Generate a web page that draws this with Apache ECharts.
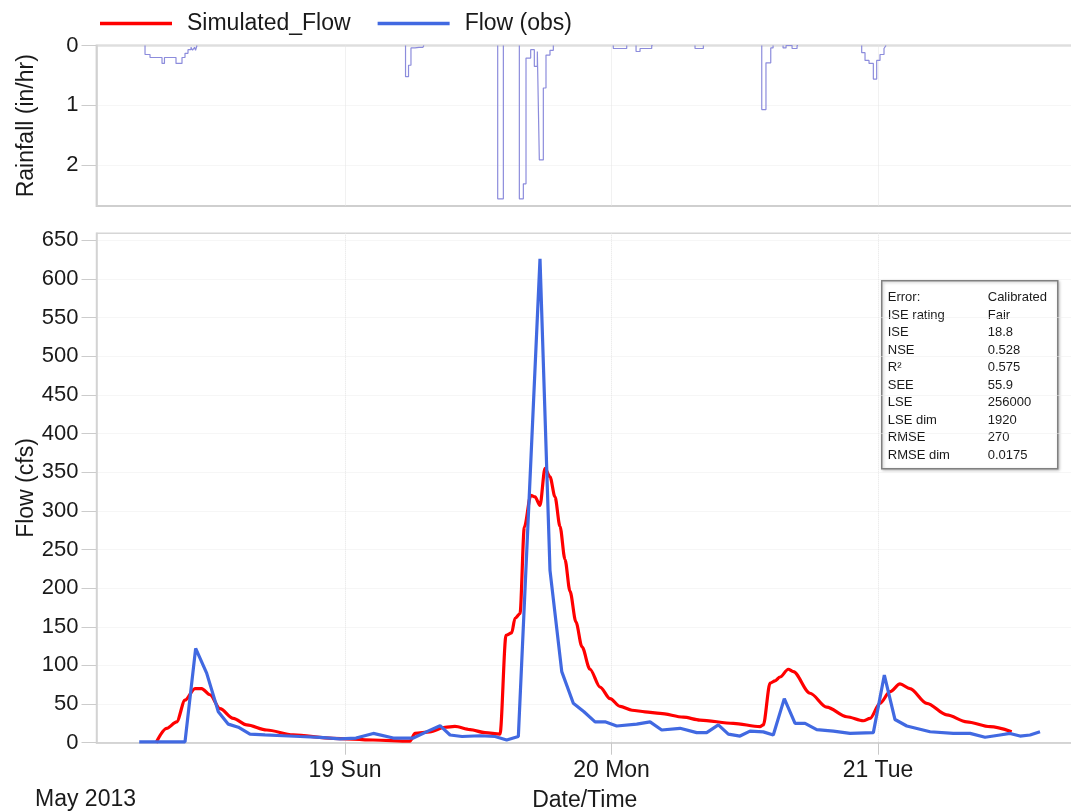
<!DOCTYPE html>
<html>
<head>
<meta charset="utf-8">
<script src="https://cdn.jsdelivr.net/npm/echarts@6/dist/echarts.min.js"></script>
<style>
  html, body { margin: 0; padding: 0; background: #ffffff; }
  #chart { width: 1071px; height: 811px; }
</style>
</head>
<body>
<div id="chart"></div>
<script>
// Hours are counted from May 18 2013, 00:00.
const dayTicks = [24, 48, 72];
const dayLabels = ['19 Sun', '20 Mon', '21 Tue'];
const flowTicks = [0, 50, 100, 150, 200, 250, 300, 350, 400, 450, 500, 550, 600, 650];
const rainTicks = [0, 1, 2];

// Observed flow (cfs)
const obsHours = [5.47, 9.59, 10.55, 11.54, 12.59, 13.49, 14.39, 15.44, 16.80, 18.42,
  19.95, 21.75, 23.55, 24.99, 26.55, 28.35, 30.15, 31.47, 32.56, 33.46,
  34.54, 36.16, 37.51, 38.56, 39.61, 41.56, 42.46, 43.52, 44.56, 45.52,
  46.52, 47.42, 48.47, 50.27, 51.47, 52.52, 54.17, 55.67, 56.57, 57.62,
  58.52, 59.57, 60.47, 61.67, 62.57, 63.56, 64.53, 65.43, 66.48, 67.98,
  69.48, 71.58, 72.57, 73.53, 74.59, 76.69, 78.78, 80.29, 81.64, 82.99,
  83.89, 84.79, 85.69, 86.59];
const obsFlow = [1, 1, 122, 90, 40, 24, 20, 11, 10, 9,
  8, 7, 5, 6, 12, 6, 6, 15, 22, 10,
  8, 9, 8, 3.5, 8, 626, 223, 92, 51, 40,
  27, 27, 21.6, 24, 27, 16.4, 18.6, 13, 13, 23,
  11, 8.6, 15, 14, 10, 57, 25, 25, 17, 15,
  12, 13, 87.5, 30, 21.6, 14.2, 12, 12, 7, 10,
  12, 8.6, 10, 14.2];

// Simulated flow (cfs)
const simHours = [6.98, 7.94, 8.84, 9.59, 10.49, 11.09, 11.84, 12.74, 13.94, 15.15,
  16.95, 19.32, 22.92, 26.52, 29.85, 30.30, 31.65, 33.0, 33.9, 35.26,
  36.61, 37.96, 38.50, 39.01, 39.31, 39.76, 40.15, 40.73, 41.11, 41.56,
  42.01, 42.46, 42.91, 43.36, 43.81, 44.26, 44.80, 45.34, 46.06, 46.97,
  47.87, 48.77, 49.85, 51.02, 52.37, 54.47, 55.97, 58.97, 61.37, 61.67,
  62.28, 62.73, 63.18, 63.92, 64.37, 65.88, 67.38, 69.18, 70.68, 71.28,
  72.18, 73.08, 73.98, 74.88, 76.39, 78.19, 79.99, 82.09, 84.04];
const simFlow = [0, 18.6, 27, 55, 70, 70, 62, 44, 31.5, 23,
  16.4, 10, 5.7, 3.5, 2, 12, 14, 20, 21, 17,
  13, 11, 139, 142, 161, 167, 279, 320, 318, 307,
  355, 344, 318, 280, 237, 196, 156, 124, 95, 72,
  57, 47, 42, 40, 38, 33, 29.3, 25, 20.7, 23,
  77, 80, 85, 95, 92, 64, 46, 33.6, 28.4, 31.5,
  51, 66, 76, 70, 51, 36, 27, 20.7, 14.2];

// Rainfall (in/hr); each value holds until the next hour mark, null separates storms
const rainHours = [5.99, 5.99, 6.44, 7.52, 7.74, 8.78, 9.32, 9.59, 9.86, 10.13, 10.27, 10.45, 10.54, 10.67, 10.7,
  29.45, 29.45, 29.72, 29.94, 30.30, 30.48, 30.66, 30.84, 31.02, 31.1,
  37.75, 37.75, 38.26, 38.3,
  39.70, 39.70, 40.06, 40.30, 40.72, 41.05, 41.32, 41.50, 41.86, 42.10, 42.46, 42.76, 42.8,
  48.16, 48.16, 49.37, 49.4,
  50.21, 50.21, 50.57, 51.62, 51.7,
  55.52, 55.52, 56.27, 56.3,
  61.53, 61.53, 61.91, 62.34, 62.55, 62.6,
  63.45, 63.45, 63.72, 64.26, 64.71, 64.8,
  70.53, 70.53, 70.83, 71.19, 71.58, 71.88, 72.18, 72.54, 72.72];
const rainRate = [0, 0.15, 0.2, 0.3, 0.2, 0.3, 0.2, 0.13, 0.07, 0.03, 0.08, 0.03, 0.08, 0, null,
  0, 0.52, 0.33, 0.04, 0.07, 0.03, 0.06, 0.03, 0, null,
  0, 2.56, 0, null,
  0, 2.56, 2.31, 0.21, 0.07, 0.35, 0.1, 1.91, 0.71, 0.16, 0.08, 0, null,
  0, 0.05, 0, null,
  0, 0.1, 0.05, 0, null,
  0, 0.05, 0, null,
  0, 1.07, 0.29, 0.04, 0, null,
  0, 0.04, 0, 0.05, 0, null,
  0, 0.12, 0.25, 0.3, 0.56, 0.25, 0.15, 0.05, 0];

// Fit statistics
const statNames = ['Error:', 'ISE rating', 'ISE', 'NSE', 'R\u00B2', 'SEE', 'LSE', 'LSE dim', 'RMSE', 'RMSE dim'];
const statValues = ['Calibrated', 'Fair', '18.8', '0.528', '0.575', '55.9', '256000', '1920', '270', '0.0175'];

const pair = (xs, ys) => xs.map((x, i) => [x, ys[i] === null ? '-' : ys[i]]);

const FONT = '"Liberation Sans", Arial, sans-serif';
const FS = 23;
const INK = '#1a1a1a';
const X_MIN = 1.62, X_MAX = 89.56;
const gridLine = { show: true, lineStyle: { color: '#e4e4e4', type: 'dotted', width: 1 } };

const chart = echarts.init(document.getElementById('chart'));
chart.setOption({
  animation: false,
  backgroundColor: '#ffffff',
  textStyle: { fontFamily: FONT },
  legend: {
    left: 95, top: 7, icon: 'rect',
    itemWidth: 72, itemHeight: 3.5, itemGap: 27,
    textStyle: { fontFamily: FONT, fontSize: FS, color: INK, padding: [0, 0, 0, 10] },
    data: ['Simulated_Flow', 'Flow (obs)']
  },
  grid: [
    { left: 96.5, right: -2, top: 45.5, height: 160.5, outerBoundsMode: 'none',
      show: true, borderColor: '#cfcfcf', borderWidth: 1.8 },
    { left: 96.5, right: -2, top: 233.3, height: 509.4, outerBoundsMode: 'none',
      show: true, borderColor: '#d6d6d6', borderWidth: 1.5 }
  ],
  xAxis: [
    {
      gridIndex: 0, type: 'value', min: X_MIN, max: X_MAX,
      axisLine: { show: false },
      axisTick: { show: false, customValues: dayTicks },
      axisLabel: { show: false, customValues: dayTicks },
      splitLine: gridLine
    },
    {
      gridIndex: 1, type: 'value', min: X_MIN, max: X_MAX,
      name: 'Date/Time', nameLocation: 'middle', nameGap: 46, nameMoveOverlap: false,
      nameTextStyle: { fontFamily: FONT, fontSize: FS, color: INK },
      axisLine: { show: true, lineStyle: { color: '#cfcfcf', width: 1.5 } },
      axisTick: { show: true, length: 12, customValues: dayTicks, lineStyle: { color: '#c8c8c8' } },
      axisLabel: {
        customValues: dayTicks, margin: 16,
        fontFamily: FONT, fontSize: FS, color: INK,
        formatter: v => dayLabels[dayTicks.indexOf(v)] || ''
      },
      splitLine: gridLine
    }
  ],
  yAxis: [
    {
      gridIndex: 0, type: 'value', inverse: true, min: 0, max: 2.68,
      name: 'Rainfall (in/hr)', nameLocation: 'middle', nameRotate: 90, nameGap: 58, nameMoveOverlap: false,
      nameTextStyle: { fontFamily: FONT, fontSize: FS, color: INK },
      axisLine: { show: true, lineStyle: { color: '#d2d2d2', width: 1.5 } },
      axisTick: { show: true, length: 15, customValues: rainTicks, lineStyle: { color: '#cccccc' } },
      axisLabel: { customValues: rainTicks, margin: 18, fontFamily: FONT, fontSize: 22, color: INK },
      splitLine: { show: true, lineStyle: { color: '#ececec', type: 'dotted' } }
    },
    {
      gridIndex: 1, type: 'value', min: 0, max: 659,
      name: 'Flow (cfs)', nameLocation: 'middle', nameRotate: 90, nameGap: 58, nameMoveOverlap: false,
      nameTextStyle: { fontFamily: FONT, fontSize: FS, color: INK },
      axisLine: { show: true, lineStyle: { color: '#d2d2d2', width: 1.5 } },
      axisTick: { show: true, length: 15, customValues: flowTicks, lineStyle: { color: '#cccccc' } },
      axisLabel: { customValues: flowTicks, margin: 18, fontFamily: FONT, fontSize: 22, color: INK },
      splitLine: { show: true, lineStyle: { color: '#ececec', type: 'dotted' } }
    }
  ],
  series: [
    {
      name: 'Rainfall', type: 'line', xAxisIndex: 0, yAxisIndex: 0,
      step: 'end', symbol: 'none', connectNulls: false,
      lineStyle: { color: '#8c8cdc', width: 1.2 },
      data: pair(rainHours, rainRate)
    },
    {
      name: 'Simulated_Flow', type: 'line', xAxisIndex: 1, yAxisIndex: 1,
      symbol: 'none', smooth: 0.3, smoothMonotone: 'x',
      color: '#ff0000',
      lineStyle: { color: '#ff0000', width: 3.2 },
      data: pair(simHours, simFlow), z: 3
    },
    {
      name: 'Flow (obs)', type: 'line', xAxisIndex: 1, yAxisIndex: 1,
      symbol: 'none',
      color: '#4169e1',
      lineStyle: { color: '#4169e1', width: 3.2 },
      data: pair(obsHours, obsFlow), z: 4
    }
  ],
  graphic: [
    {
      type: 'text', left: 35, top: 788,
      style: { text: 'May 2013', font: FS + 'px ' + FONT, fill: INK }
    },
    {
      type: 'group', left: 881, top: 280,
      children: [
        {
          type: 'rect', shape: { x: 0, y: 0, width: 176, height: 188 },
          style: { fill: '#ffffff', stroke: '#808080', lineWidth: 1.5,
                   shadowBlur: 3, shadowColor: 'rgba(0,0,0,0.25)', shadowOffsetX: 1, shadowOffsetY: 1 }
        },
        {
          type: 'text', x: 6, y: 8,
          style: { text: statNames.join('\n'), font: '13px ' + FONT, lineHeight: 17.5, fill: INK }
        },
        {
          type: 'text', x: 106, y: 8,
          style: { text: statValues.join('\n'), font: '13px ' + FONT, lineHeight: 17.5, fill: INK }
        }
      ]
    }
  ]
});
</script>
</body>
</html>
